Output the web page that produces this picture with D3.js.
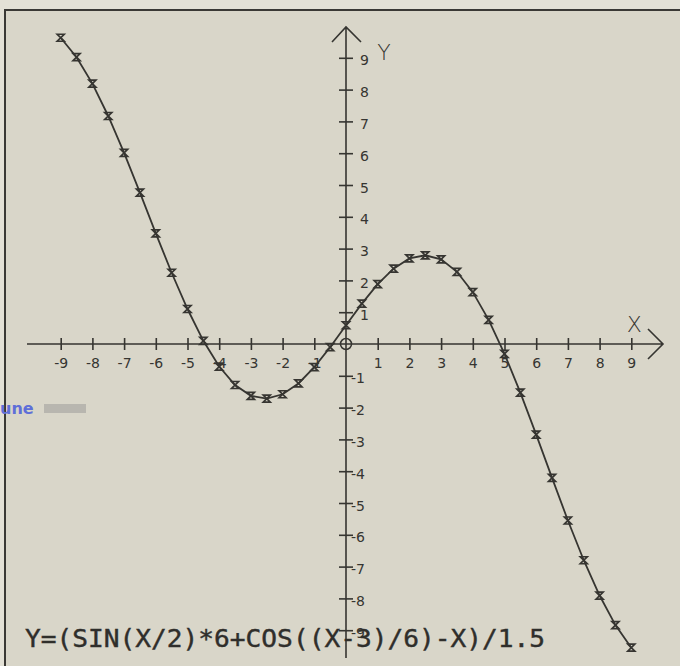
<!DOCTYPE html>
<html>
<head>
<meta charset="utf-8">
<script src="https://cdn.jsdelivr.net/npm/d3@7"></script>
<style>
  body { margin: 0; background: #e3e1d6; }
  svg { display: block; }
</style>
</head>
<body>
<div id="plot"></div>
<script>
// sample points (step 0.5)
const xValues = [-9, -8.5, -8, -7.5, -7, -6.5, -6, -5.5, -5, -4.5, -4, -3.5, -3, -2.5, -2, -1.5, -1, -0.5,
  0, 0.5, 1, 1.5, 2, 2.5, 3, 3.5, 4, 4.5, 5, 5.5, 6, 6.5, 7, 7.5, 8, 8.5, 9];
const yValues = [9.63, 9.02, 8.19, 7.17, 6.01, 4.76, 3.48, 2.24, 1.10, 0.10, -0.71, -1.29, -1.63, -1.72, -1.58, -1.24, -0.73, -0.10,
  0.59, 1.27, 1.88, 2.37, 2.69, 2.79, 2.66, 2.27, 1.63, 0.76, -0.31, -1.53, -2.85, -4.21, -5.55, -6.80, -7.91, -8.84, -9.55];
const xTicks = [-9, -8, -7, -6, -5, -4, -3, -2, -1, 1, 2, 3, 4, 5, 6, 7, 8, 9];
const yTicks = [9, 8, 7, 6, 5, 4, 3, 2, 1, -1, -2, -3, -4, -5, -6, -7, -8, -9];
const formula = "Y=(SIN(X/2)*6+COS((X-3)/6)-X)/1.5";

const W = 680, H = 666;
const ink = "#363531";

const svg = d3.select("#plot").append("svg")
  .attr("width", W)
  .attr("height", H);

// paper
svg.append("rect").attr("width", W).attr("height", H).attr("fill", "#e3e1d6");
svg.append("rect").attr("x", 5).attr("y", 10).attr("width", W).attr("height", H)
  .attr("fill", "#d9d6c9");
svg.append("path")
  .attr("d", `M5,${H} V10 H${W}`)
  .attr("fill", "none").attr("stroke", "#3a3935").attr("stroke-width", 2);

const x = d3.scaleLinear().domain([-9, 9]).range([60.7, 631.3]);
const y = d3.scaleLinear().domain([-9, 9]).range([630.2, 57.8]);

const x0 = x(0), y0 = y(0);

// axis lines with arrow heads
svg.append("path")
  .attr("d", `M27,${y0} H663 M648,${y0 - 15} L663,${y0} L648,${y0 + 15}`)
  .attr("fill", "none").attr("stroke", ink).attr("stroke-width", 1.6);
svg.append("path")
  .attr("d", `M${x0},658 V27 M${x0 - 14},42 L${x0},27 L${x0 + 15},42`)
  .attr("fill", "none").attr("stroke", ink).attr("stroke-width", 1.6);

svg.append("circle")
  .attr("cx", x0).attr("cy", y0).attr("r", 5.5)
  .attr("fill", "none").attr("stroke", ink).attr("stroke-width", 1.5);

// x ticks
const gx = svg.append("g")
  .attr("transform", `translate(0,${y0})`)
  .style("font-family", "DejaVu Sans")
  .call(d3.axisBottom(x).tickValues(xTicks).tickSize(6).tickPadding(8).tickFormat(d => d < 0 ? "-" + Math.abs(d) : d));
gx.select(".domain").remove();
gx.selectAll(".tick line").attr("y1", -6).attr("stroke", ink).attr("stroke-width", 1.6);
gx.selectAll(".tick text").attr("fill", ink).style("font-size", "14px");

// y ticks
const gy = svg.append("g")
  .attr("transform", `translate(${x0},0)`)
  .style("font-family", "DejaVu Sans")
  .call(d3.axisRight(y).tickValues(yTicks).tickSize(7).tickPadding(8).tickFormat(d => d < 0 ? "-" + Math.abs(d) : d));
gy.select(".domain").remove();
gy.selectAll(".tick line").attr("x1", -7).attr("stroke", ink).attr("stroke-width", 1.6);
gy.selectAll(".tick text")
  .attr("fill", ink).style("font-size", "14px")
  .attr("x", d => d < 0 ? 5 : 14)
  .attr("dy", "0.5em");

// axis names
svg.append("text")
  .attr("x", x(9) + 3).attr("y", y0 - 12)
  .attr("text-anchor", "middle")
  .style("font-family", "DejaVu Sans").style("font-size", "22px").style("font-weight", "300")
  .attr("fill", ink).text("X");
svg.append("text")
  .attr("x", x0 + 38).attr("y", 60)
  .attr("text-anchor", "middle")
  .style("font-family", "DejaVu Sans").style("font-size", "22px").style("font-weight", "300")
  .attr("fill", ink).text("Y");

// curve
const points = xValues.map((v, i) => ({x: v, y: yValues[i]}));

svg.append("path")
  .datum(points)
  .attr("d", d3.line().x(d => x(d.x)).y(d => y(d.y)))
  .attr("fill", "none").attr("stroke", ink).attr("stroke-width", 1.8);

svg.append("g")
  .selectAll("path")
  .data(points)
  .join("path")
    .attr("transform", d => `translate(${x(d.x)},${y(d.y)})`)
    .attr("d", "M-3.5,-3.5 H3.5 L-3.5,3.5 H3.5 Z")
    .attr("fill", "none").attr("stroke", ink).attr("stroke-width", 1.7);

// stray mark on the page at the left
svg.append("rect").attr("x", 44).attr("y", 404).attr("width", 42).attr("height", 9)
  .attr("fill", "#a9a8a4").attr("opacity", 0.7);
svg.append("text")
  .attr("x", 0).attr("y", 414)
  .style("font-family", "DejaVu Sans").style("font-size", "16px").style("font-weight", "bold")
  .attr("fill", "#5f6fd8").text("une");

// formula caption
svg.append("text")
  .attr("x", 25).attr("y", 647)
  .attr("textLength", 520).attr("lengthAdjust", "spacingAndGlyphs")
  .style("font-family", "DejaVu Sans Mono").style("font-size", "24px")
  .attr("fill", "#2f2e2b").attr("stroke", "#2f2e2b").attr("stroke-width", 0.4)
  .text(formula);
</script>
</body>
</html>
